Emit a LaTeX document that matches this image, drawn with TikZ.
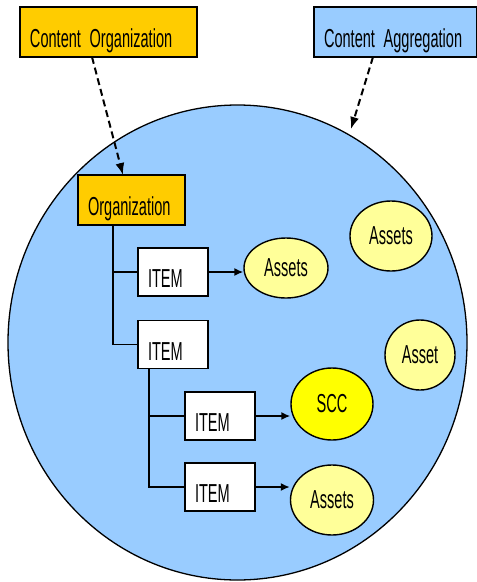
\documentclass[tikz,border=0pt]{standalone}
\usepackage{fontspec}
\setmainfont{Liberation Sans}
\newfontfamily\narrowfont[FakeStretch=0.56]{Liberation Sans}
\newcommand\lblfont{\narrowfont\fontsize{26}{26}\selectfont\spaceskip=3.5pt plus 1pt minus 0.5pt\relax}
\usetikzlibrary{shapes.geometric,arrows.meta}
\definecolor{aggblue}{HTML}{99CCFF}
\definecolor{orgorange}{HTML}{FFCC00}
\definecolor{assetyellow}{HTML}{FFFF99}
\definecolor{sccyellow}{HTML}{FFFF00}
\begin{document}
\begin{tikzpicture}[x=1pt,y=-1pt,
  lbl/.style={font=\lblfont},
  box/.style={draw=black, line width=1.6pt, rectangle, inner ysep=0pt, inner xsep=10pt,
    align=left, text height=31pt, text depth=0pt, minimum height=50pt, lbl},
  itembox/.style={box, fill=white, text width=50pt, minimum height=48pt},
  blob/.style={ellipse, draw=black, line width=1.4pt, inner sep=0pt, fill=assetyellow, lbl},
  tree/.style={draw=black, line width=1.6pt},
  solidarrow/.style={tree, -{Latex[length=9pt,width=8pt]}},
  dasharrow/.style={draw=black, line width=2pt, dash pattern=on 7pt off 4pt, -{Latex[length=12pt,width=9pt]}}
]
\useasboundingbox (0,0) rectangle (477,582);

% big aggregation circle
\node[ellipse, draw=black, line width=1.3pt, fill=aggblue, minimum width=459pt, minimum height=475pt, inner sep=0pt] (agg) at (237.5,342.5) {};

% outside labels
\node[box, fill=orgorange, text width=157pt] (co) at (108.5,32) {Content Organization};
\node[box, fill=aggblue, text width=143pt] (ca) at (395.5,32) {Content Aggregation};

% organization and items
\node[box, fill=orgorange, text width=87pt] (org) at (131.5,200) {Organization};
\node[itembox] (item1) at (173,272) {ITEM};
\node[itembox] (item2) at (173,344.5) {ITEM};
\node[itembox] (item3) at (220,416) {ITEM};
\node[itembox] (item4) at (220,487) {ITEM};

% resources
\node[blob, minimum width=84pt, minimum height=60pt] (a1) at (286,268) {Assets};
\node[blob, minimum width=82pt, minimum height=70pt] (a2) at (391,236) {Assets};
\node[blob, minimum width=70pt, minimum height=70pt] (a3) at (420,355) {Asset};
\node[blob, fill=sccyellow, minimum width=82pt, minimum height=72pt] (scc) at (332,404) {SCC};
\node[blob, minimum width=83pt, minimum height=70pt] (a4) at (332,500) {Assets};

% dashed arrows
\coordinate (coTail) at (92,57);
\coordinate (orgTip) at (123,175);
\coordinate (caTail) at (373,57);
\coordinate (aggTip) at (351,129);
\draw[dasharrow] (coTail) -- (orgTip);
\draw[dasharrow] (caTail) -- (aggTip);

% tree connectors
\coordinate (orgRoot) at (113,225);
\coordinate (item2Root) at (149,368.5);
\draw[tree] (orgRoot) |- (item1.west);
\draw[tree] (orgRoot) |- (item2.west);
\draw[tree] (item2Root) |- (item3.west);
\draw[tree] (item2Root) |- (item4.west);

% item to resource arrows
\draw[solidarrow] (item1.east) -- (item1.east -| a1.west);
\draw[solidarrow] (item3.east) -- (item3.east -| scc.west);
\draw[solidarrow] (item4.east) -- (item4.east -| a4.west);
\end{tikzpicture}
\end{document}
